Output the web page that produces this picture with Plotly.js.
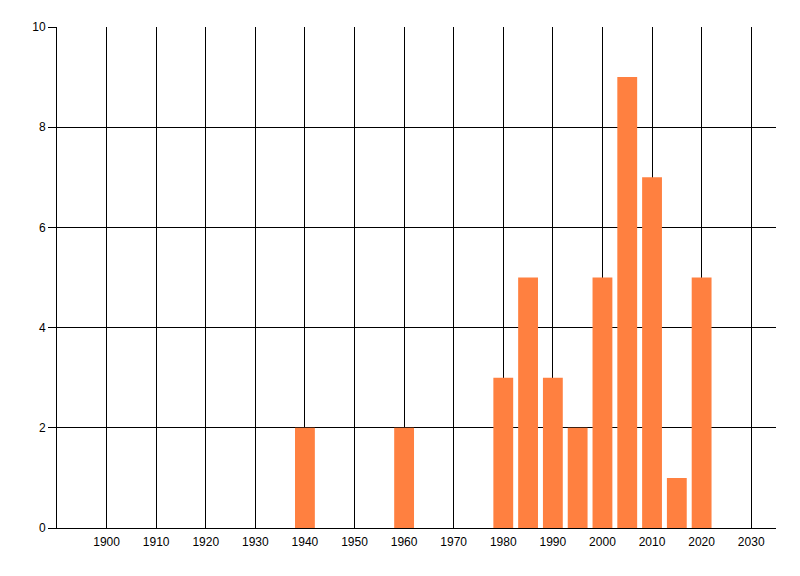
<!DOCTYPE html>
<html><head><meta charset="utf-8">
<script src="https://cdn.plot.ly/plotly-3.0.1.min.js"></script>
<style>html,body{margin:0;padding:0;background:#fff}#chart{width:800px;height:576px}</style>
</head><body><div id="chart"></div>
<script>
const years = [1940, 1960, 1980, 1985, 1990, 1995, 2000, 2005, 2010, 2015, 2020];
const counts = [2, 2, 3, 5, 3, 2, 5, 9, 7, 1, 5];
const xTicks = [1900, 1910, 1920, 1930, 1940, 1950, 1960, 1970, 1980, 1990, 2000, 2010, 2020, 2030];
const yTicks = [0, 2, 4, 6, 8, 10];

Plotly.newPlot('chart', [{
  type: 'bar', x: years, y: counts, width: 4,
  marker: {color: '#FF8040', line: {width: 0}},
  hoverinfo: 'x+y'
}], {
  width: 800, height: 576,
  margin: {l: 57, r: 24, t: 27, b: 48, pad: 0},
  paper_bgcolor: '#fff', plot_bgcolor: '#fff',
  font: {family: 'Liberation Sans, Arial, sans-serif', size: 12, color: '#000'},
  showlegend: false,
  xaxis: {
    range: [1890, 2035], tickvals: xTicks, ticktext: xTicks.map(String),
    showgrid: true, gridcolor: '#000', gridwidth: 1,
    showline: true, linecolor: '#000', linewidth: 1,
    ticks: '', ticklabelstandoff: 3, zeroline: false, fixedrange: true
  },
  yaxis: {
    range: [0, 10], tickvals: yTicks, ticktext: yTicks.map(String),
    showgrid: true, gridcolor: '#000', gridwidth: 1,
    showline: true, linecolor: '#000', linewidth: 1,
    ticks: 'outside', ticklen: 8, tickcolor: '#000', tickwidth: 1,
    zeroline: false, fixedrange: true
  }
}, {displayModeBar: false, staticPlot: true});
</script></body></html>
